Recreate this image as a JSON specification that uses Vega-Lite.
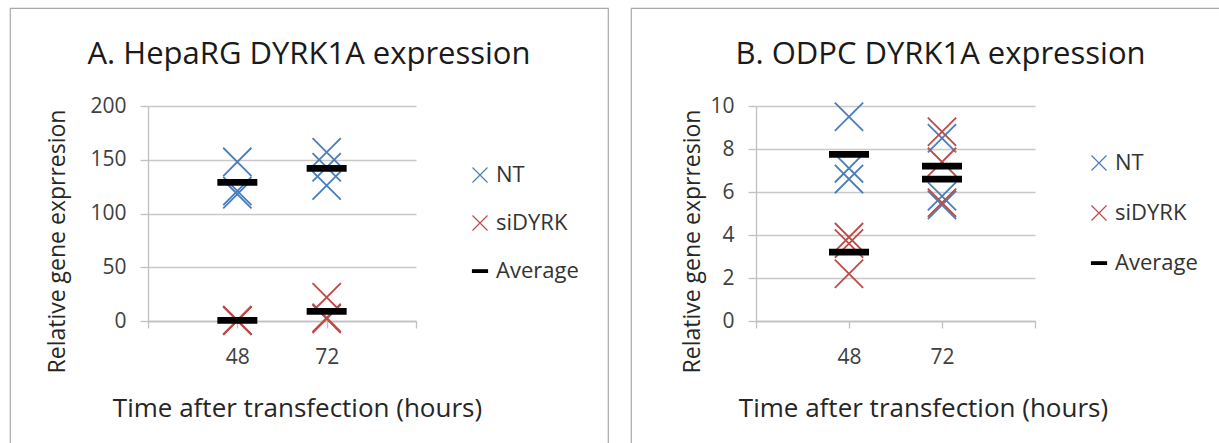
{
  "$schema": "https://vega.github.io/schema/vega-lite/v6.json",
  "padding": {"left": 9, "top": 7, "right": 0, "bottom": 0},
  "background": "white",
  "config": {
    "font": "Open Sans",
    "view": {"stroke": "#a9a9a9", "strokeWidth": 1.2},
    "concat": {"spacing": 21},
    "axis": {
      "labelFont": "Open Sans", "labelFontSize": 21, "labelColor": "#404040",
      "titleFont": "Open Sans", "titleFontSize": 26, "titleFontWeight": "normal", "titleColor": "#262626",
      "domainColor": "#c0c0c0", "domainWidth": 1.3,
      "tickColor": "#c0c0c0", "tickWidth": 1.3,
      "gridColor": "#c8c8c8", "gridWidth": 1.3
    },
    "legend": {
      "orient": "none", "title": null,
      "labelFont": "Open Sans", "labelFontSize": 22, "labelColor": "#333333",
      "symbolSize": 225, "symbolStrokeWidth": 1.2, "labelOffset": 5
    },
    "title": {"font": "Open Sans", "fontSize": 31, "fontWeight": "normal", "color": "#1a1a1a"}
  },
  "datasets": {
    "hepa": [
      {"time": 48, "series": "NT", "value": 148},
      {"time": 48, "series": "NT", "value": 121},
      {"time": 48, "series": "NT", "value": 118},
      {"time": 72, "series": "NT", "value": 157},
      {"time": 72, "series": "NT", "value": 143},
      {"time": 72, "series": "NT", "value": 126},
      {"time": 48, "series": "siDYRK", "value": 0.8},
      {"time": 48, "series": "siDYRK", "value": 0.4},
      {"time": 48, "series": "siDYRK", "value": 0.3},
      {"time": 72, "series": "siDYRK", "value": 22},
      {"time": 72, "series": "siDYRK", "value": 3},
      {"time": 72, "series": "siDYRK", "value": 2},
      {"time": 48, "series": "Average", "value": 129},
      {"time": 72, "series": "Average", "value": 142},
      {"time": 48, "series": "Average", "value": 0.5},
      {"time": 72, "series": "Average", "value": 9}
    ],
    "odpc": [
      {"time": 48, "series": "NT", "value": 9.5},
      {"time": 48, "series": "NT", "value": 7.1},
      {"time": 48, "series": "NT", "value": 6.6},
      {"time": 72, "series": "NT", "value": 8.5},
      {"time": 72, "series": "NT", "value": 5.8},
      {"time": 72, "series": "NT", "value": 5.4},
      {"time": 48, "series": "siDYRK", "value": 3.9},
      {"time": 48, "series": "siDYRK", "value": 3.6},
      {"time": 48, "series": "siDYRK", "value": 2.2},
      {"time": 72, "series": "siDYRK", "value": 8.8},
      {"time": 72, "series": "siDYRK", "value": 7.4},
      {"time": 72, "series": "siDYRK", "value": 5.5},
      {"time": 48, "series": "Average", "value": 7.75},
      {"time": 48, "series": "Average", "value": 3.2},
      {"time": 72, "series": "Average", "value": 6.6},
      {"time": 72, "series": "Average", "value": 7.2}
    ]
  },
  "hconcat": [
    {
      "width": 598,
      "height": 436,
      "title": {"text": "A. HepaRG DYRK1A expression", "anchor": "middle", "frame": "group", "baseline": "alphabetic", "offset": -87},
      "data": {"name": "hepa"},
      "encoding": {
        "x": {
          "field": "time", "type": "quantitative",
          "scale": {"domain": [24, 96], "range": [138, 406], "nice": false, "zero": false},
          "axis": {
            "orient": "bottom", "offset": -123, "values": [24, 48, 72, 96],
            "labelExpr": "datum.value == 48 || datum.value == 72 ? datum.label : ''",
            "grid": false, "tickSize": 7, "labelPadding": 18,
            "title": "Time after transfection (hours)", "titleX": 287, "titleY": 95, "titleBaseline": "alphabetic"
          }
        },
        "y": {
          "field": "value", "type": "quantitative",
          "scale": {"domain": [0, 200], "range": [313, 98], "nice": false},
          "axis": {
            "orient": "left", "offset": -138, "values": [0, 50, 100, 150, 200],
            "grid": true, "tickSize": 8, "labelPadding": 14,
            "title": "Relative gene exprresion", "titleX": -84, "titleY": 233, "titleAngle": -90, "titleBaseline": "alphabetic", "titleFontSize": 23
          }
        }
      },
      "layer": [
        {
          "transform": [{"filter": "datum.series !== 'Average'"}],
          "mark": {"type": "point", "size": 800, "strokeWidth": 1.8, "opacity": 1},
          "encoding": {
            "fill": {"field": "series", "type": "nominal", "scale": {"domain": ["NT", "siDYRK", "Average"], "range": ["#4a7ebb", "#be4b48", "#000000"]}, "legend": {"legendX": 459, "legendY": 156, "rowPadding": 26}},
            "stroke": {"field": "series", "type": "nominal", "scale": {"domain": ["NT", "siDYRK", "Average"], "range": ["#4a7ebb", "#be4b48", "#000000"]}, "legend": {"legendX": 459, "legendY": 156, "rowPadding": 26}},
            "shape": {"field": "series", "type": "nominal", "scale": {"domain": ["NT", "siDYRK", "Average"], "range": ["M-1,-1L1,1M-1,1L1,-1", "M-1,-1L1,1M-1,1L1,-1", "M-1,-0.17L1,-0.17L1,0.17L-1,0.17Z"]}, "legend": {"legendX": 459, "legendY": 156, "rowPadding": 26}}
          }
        },
        {
          "transform": [{"filter": "datum.series === 'Average'"}],
          "mark": {"type": "point", "size": 1600, "strokeWidth": 0, "opacity": 1},
          "encoding": {
            "fill": {"field": "series", "type": "nominal"},
            "stroke": {"field": "series", "type": "nominal"},
            "shape": {"field": "series", "type": "nominal"}
          }
        }
      ]
    },
    {
      "width": 591,
      "height": 436,
      "title": {"text": "B. ODPC DYRK1A expression", "anchor": "middle", "frame": "group", "baseline": "alphabetic", "offset": -87, "dx": 14},
      "data": {"name": "odpc"},
      "encoding": {
        "x": {
          "field": "time", "type": "quantitative",
          "scale": {"domain": [24, 96], "range": [125, 404], "nice": false, "zero": false},
          "axis": {
            "orient": "bottom", "offset": -123, "values": [24, 48, 72, 96],
            "labelExpr": "datum.value == 48 || datum.value == 72 ? datum.label : ''",
            "grid": false, "tickSize": 7, "labelPadding": 18,
            "title": "Time after transfection (hours)", "titleX": 292, "titleY": 95, "titleBaseline": "alphabetic"
          }
        },
        "y": {
          "field": "value", "type": "quantitative",
          "scale": {"domain": [0, 10], "range": [313, 98], "nice": false},
          "axis": {
            "orient": "left", "offset": -125, "values": [0, 2, 4, 6, 8, 10],
            "grid": true, "tickSize": 8, "labelPadding": 14,
            "title": "Relative gene exprresion", "titleX": -57, "titleY": 233, "titleAngle": -90, "titleBaseline": "alphabetic", "titleFontSize": 23
          }
        }
      },
      "layer": [
        {
          "transform": [{"filter": "datum.series !== 'Average'"}],
          "mark": {"type": "point", "size": 800, "strokeWidth": 1.8, "opacity": 1},
          "encoding": {
            "fill": {"field": "series", "type": "nominal", "scale": {"domain": ["NT", "siDYRK", "Average"], "range": ["#4a7ebb", "#be4b48", "#000000"]}, "legend": {"legendX": 457, "legendY": 144, "rowPadding": 28}},
            "stroke": {"field": "series", "type": "nominal", "scale": {"domain": ["NT", "siDYRK", "Average"], "range": ["#4a7ebb", "#be4b48", "#000000"]}, "legend": {"legendX": 457, "legendY": 144, "rowPadding": 28}},
            "shape": {"field": "series", "type": "nominal", "scale": {"domain": ["NT", "siDYRK", "Average"], "range": ["M-1,-1L1,1M-1,1L1,-1", "M-1,-1L1,1M-1,1L1,-1", "M-1,-0.17L1,-0.17L1,0.17L-1,0.17Z"]}, "legend": {"legendX": 457, "legendY": 144, "rowPadding": 28}}
          }
        },
        {
          "transform": [{"filter": "datum.series === 'Average'"}],
          "mark": {"type": "point", "size": 1600, "strokeWidth": 0, "opacity": 1},
          "encoding": {
            "fill": {"field": "series", "type": "nominal"},
            "stroke": {"field": "series", "type": "nominal"},
            "shape": {"field": "series", "type": "nominal"}
          }
        }
      ]
    }
  ],
  "resolve": {
    "scale": {"x": "independent", "y": "independent", "fill": "independent", "stroke": "independent", "shape": "independent"},
    "legend": {"fill": "independent", "stroke": "independent", "shape": "independent"}
  }
}
